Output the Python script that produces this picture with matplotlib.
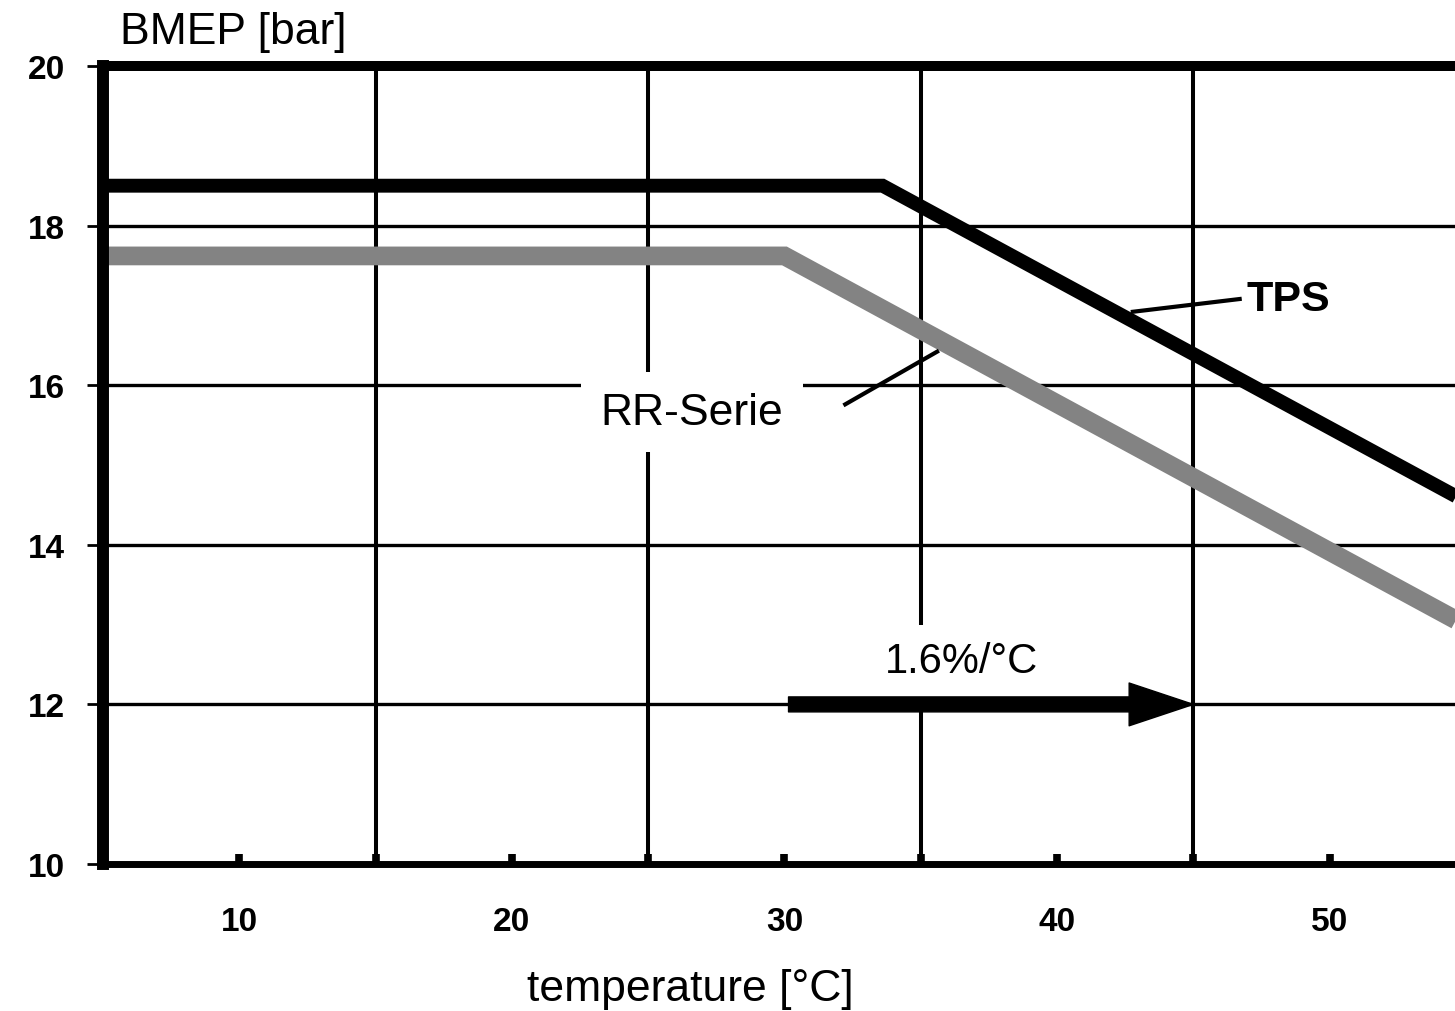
import matplotlib
matplotlib.use("Agg")
import matplotlib.pyplot as plt
from matplotlib.ticker import FixedLocator

plt.rcParams['font.family'] = ['Liberation Sans', 'DejaVu Sans']

# ---- data ----
tps_temp = [5, 33.6, 55]
tps_bmep = [18.5, 18.5, 14.54]
rr_temp = [5, 30, 55]
rr_bmep = [17.62, 17.62, 12.99]

x_ticks = [10, 20, 30, 40, 50]
x_grid = [15, 25, 35, 45]
y_ticks = [10, 12, 14, 16, 18, 20]

arrow_start = (30.15, 12)
arrow_end = (45, 12)
arrow_label = "1.6%/°C"

tps_label = "TPS"
tps_label_pos = (48.5, 17.08)
tps_leader = [(42.78, 16.92), (46.7, 17.08)]

rr_label = "RR-Serie"
rr_label_pos = (26.6, 15.66)
rr_leader = [(32.23, 15.76), (35.6, 16.42)]

fig = plt.figure(figsize=(14.55, 10.12), dpi=100)
ax = fig.add_axes([103/1455, (1012-865)/1012, (1455-103)/1455, (865-67)/1012])

ax.set_xlim(5, 54.6)
ax.set_ylim(10, 20)

# grid
ax.xaxis.set_major_locator(FixedLocator(x_ticks))
ax.xaxis.set_minor_locator(FixedLocator(x_grid))
ax.yaxis.set_major_locator(FixedLocator(y_ticks))
ax.grid(True, which='minor', axis='x', color='black', lw=2.9, zorder=1)
ax.grid(True, which='major', axis='y', color='black', lw=2.4, zorder=1)

# series
ax.plot(rr_temp, rr_bmep, color='#838383', lw=13.5, solid_capstyle='butt',
        solid_joinstyle='miter', zorder=3)
ax.plot(tps_temp, tps_bmep, color='black', lw=10, solid_capstyle='butt',
        solid_joinstyle='miter', zorder=4)

# spines
ax.spines['right'].set_visible(False)
ax.spines['left'].set_linewidth(8.6)
ax.spines['top'].set_linewidth(7.2)
ax.spines['bottom'].set_linewidth(5)
for s in ax.spines.values():
    s.set_zorder(6)

# ticks
ax.tick_params(axis='y', which='major', direction='out', length=11.5, width=2,
               pad=16, labelsize=24)
ax.tick_params(axis='x', which='both', direction='in', length=7, width=5.5,
               pad=30, labelsize=24)
ax.set_xticklabels([str(v) for v in x_ticks], fontweight='bold')
ax.set_yticklabels([str(v) for v in y_ticks], fontweight='bold')

# axis labels
ax.set_ylabel("BMEP [bar]", rotation=0, fontsize=32, ha='center', va='center')
ax.yaxis.set_label_coords((233-103)/1352, (865-33)/798)
ax.set_xlabel("temperature [°C]", fontsize=32, ha='center', va='center')
ax.xaxis.set_label_coords((690-103)/1352, (865-990)/798)

# annotations
ax.text(*rr_label_pos, rr_label, fontsize=32, ha='center', va='center', zorder=5,
        bbox=dict(facecolor='white', edgecolor='none', pad=14))
ax.plot([p[0] for p in rr_leader], [p[1] for p in rr_leader], color='black',
        lw=3, zorder=5)

ax.text(*tps_label_pos, tps_label, fontsize=31, fontweight='bold',
        ha='center', va='center', zorder=5)
ax.plot([p[0] for p in tps_leader], [p[1] for p in tps_leader], color='black',
        lw=3, zorder=5)

ax.text(36.5, 12.54, arrow_label, fontsize=30, ha='center', va='center', zorder=4.5,
        bbox=dict(facecolor='white', edgecolor='none', pad=12))
ax.annotate('', xy=arrow_end, xytext=arrow_start, zorder=5,
            arrowprops=dict(arrowstyle='simple,head_length=2.1,head_width=1.4,tail_width=0.49',
                            mutation_scale=22, color='black', shrinkA=0, shrinkB=0))

fig.savefig("out.png", dpi=100)
